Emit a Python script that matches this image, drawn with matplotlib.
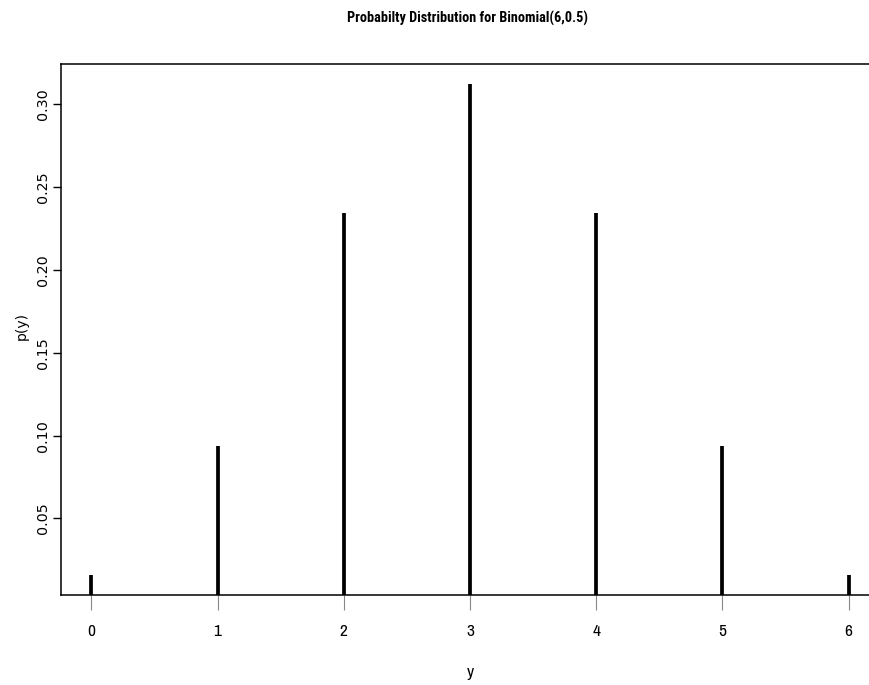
import matplotlib.pyplot as plt

# Binomial(6, 0.5) probabilities
y_vals = [0, 1, 2, 3, 4, 5, 6]
p_vals = [0.015625, 0.09375, 0.234375, 0.3125, 0.234375, 0.09375, 0.015625]
y_ticks = [0.05, 0.10, 0.15, 0.20, 0.25, 0.30]

narrow = ["Archivo Narrow", "Roboto Condensed", "DejaVu Sans"]
narrow_bold = ["Roboto Condensed", "DejaVu Sans"]
wide = ["DejaVu Sans"]

fig = plt.figure(figsize=(8.7, 6.85), dpi=100)
ax = fig.add_axes([61 / 870, 90 / 685, 818 / 870, 531 / 685])

# vertical "h"-style spikes from zero up to each probability
ax.vlines(y_vals, 0, p_vals, colors="black", linewidth=2.7, capstyle="butt")

# same 4% padding as R's default axis range
pad_x = 0.04 * (max(y_vals) - min(y_vals))
pad_y = 0.04 * (max(p_vals) - min(p_vals))
ax.set_xlim(min(y_vals) - pad_x, max(y_vals) + pad_x)
ax.set_ylim(min(p_vals) - pad_y, max(p_vals) + pad_y)

for side in ["top", "bottom", "left", "right"]:
    ax.spines[side].set_linewidth(1.1)

ax.set_xticks(y_vals)
ax.set_xticklabels([str(v) for v in y_vals], fontfamily=narrow, fontsize=12.5)
ax.tick_params(axis="x", length=11, width=0.8, color="#888888", pad=10)

ax.set_yticks(y_ticks)
ax.set_yticklabels([f"{v:.2f}" for v in y_ticks], rotation=90, va="center",
                   fontfamily=wide, fontsize=10.3)
ax.tick_params(axis="y", length=6, width=1.0, pad=2)

fig.text(470 / 870, 1 - 673 / 685, "y", ha="center", va="center",
         fontfamily=narrow, fontsize=12.5)
fig.text(22 / 870, 1 - 326 / 685, "p(y)", ha="center", va="center", rotation=90,
         fontfamily=wide, fontsize=10)
fig.text(468 / 870, 1 - 18 / 685, "Probabilty Distribution for Binomial(6,0.5)",
         ha="center", va="center", fontfamily=narrow_bold, fontweight="bold", fontsize=10.3)

fig.savefig("out.png", dpi=100)
